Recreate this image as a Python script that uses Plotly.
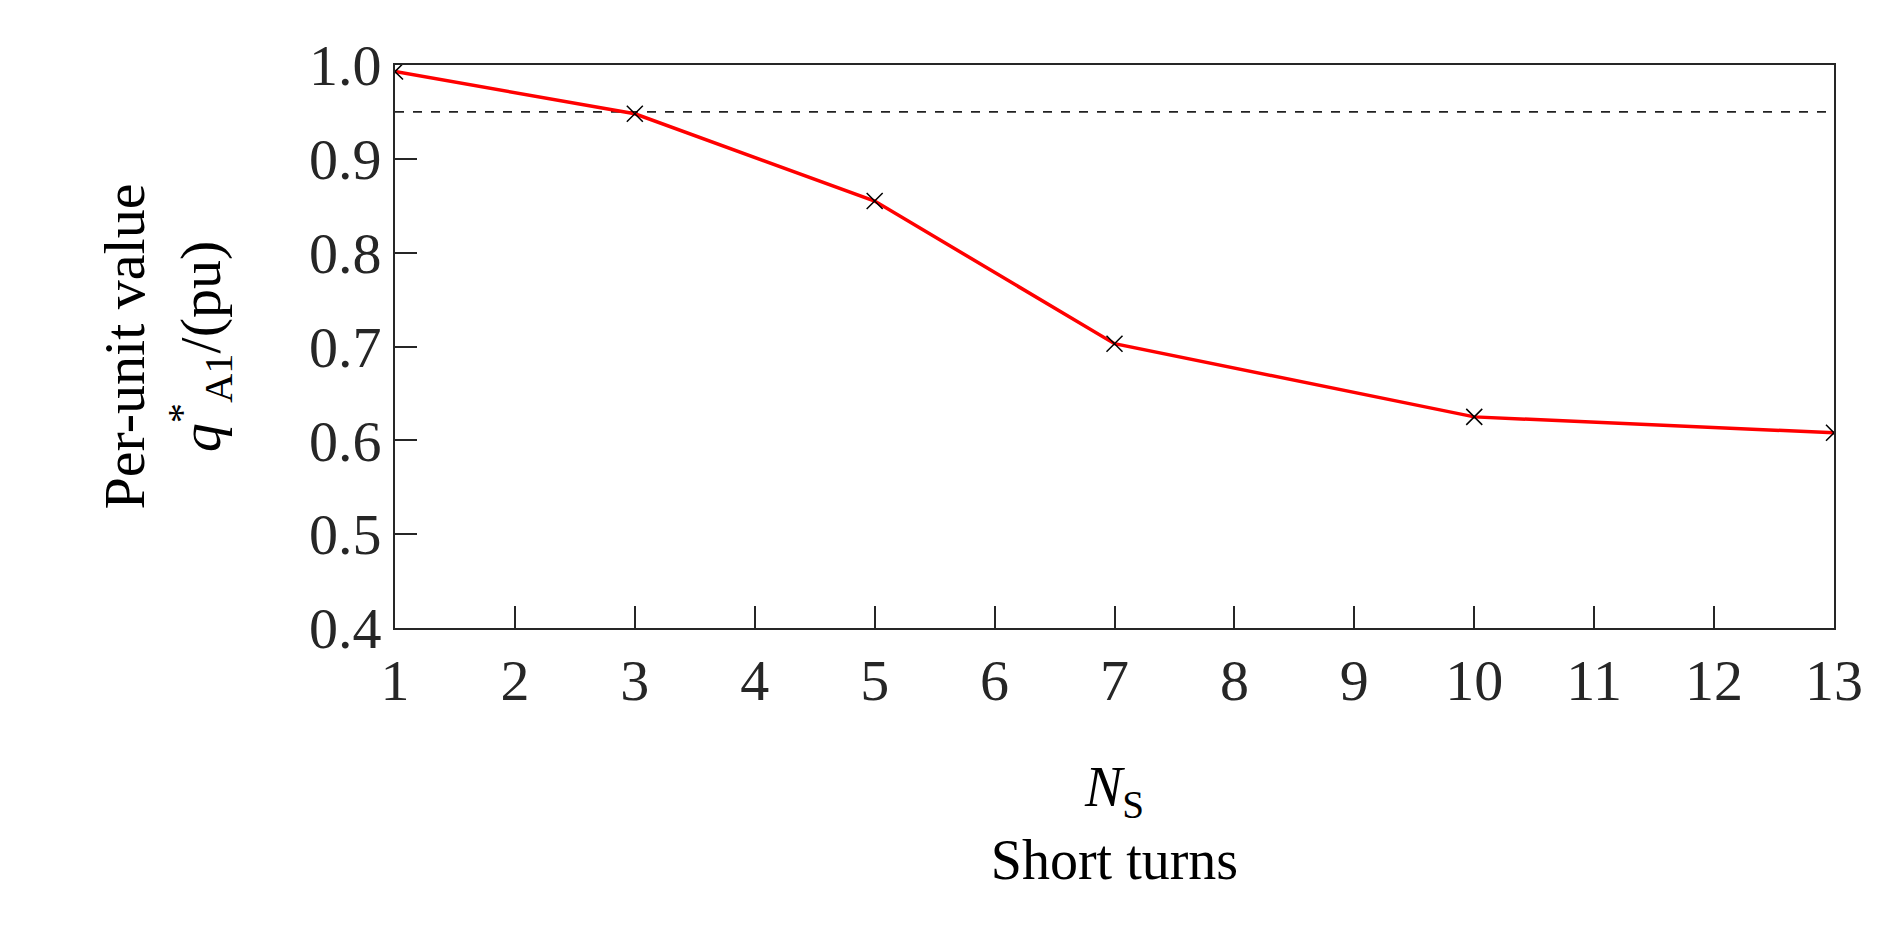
import plotly.graph_objects as go

ns = [1, 3, 5, 7, 10, 13]
q_a1 = [0.993, 0.948, 0.855, 0.703, 0.625, 0.608]
threshold = 0.95
x_ticks = list(range(1, 14))
y_ticks = [0.4, 0.5, 0.6, 0.7, 0.8, 0.9, 1.0]

font = "Liberation Serif"
fig = go.Figure()
fig.add_trace(go.Scatter(x=[1, 13], y=[threshold, threshold], mode="lines",
                         line=dict(color="#222", width=1.8, dash="dash"), showlegend=False))
fig.add_trace(go.Scatter(x=ns, y=q_a1, mode="lines+markers",
                         line=dict(color="red", width=3.5),
                         marker=dict(symbol="x-thin", size=16, color="black",
                                     line=dict(color="black", width=1.5)),
                         showlegend=False))
fig.update_layout(
    width=1904, height=928, plot_bgcolor="white", paper_bgcolor="white",
    margin=dict(l=387, r=78, t=57, b=308),
    font=dict(family=font, size=58, color="#262626"),
    xaxis=dict(range=[1, 13], tickvals=x_ticks, ticks="inside", ticklen=22, tickwidth=1.5,
               tickcolor="#262626", showline=True, linecolor="#262626", linewidth=2,
               mirror=True, showgrid=False, zeroline=False,
               tickfont=dict(size=58),
               title=dict(text="<i>N</i><sub>S</sub><br>Short turns", font=dict(size=56, color="black"), standoff=55)),
    yaxis=dict(range=[0.4, 1.0], tickvals=y_ticks, tickformat=".1f", ticks="inside", ticklen=22,
               tickwidth=1.5, tickcolor="#262626", showline=True, linecolor="#262626", linewidth=2,
               mirror=True, showgrid=False, zeroline=False, tickfont=dict(size=58),
               title=dict(text="Per-unit value<br><i>q</i><sup>*</sup><sub>A1</sub>/(pu)",
                          font=dict(size=58, color="black"), standoff=70)),
)
fig.write_html("out.html")
